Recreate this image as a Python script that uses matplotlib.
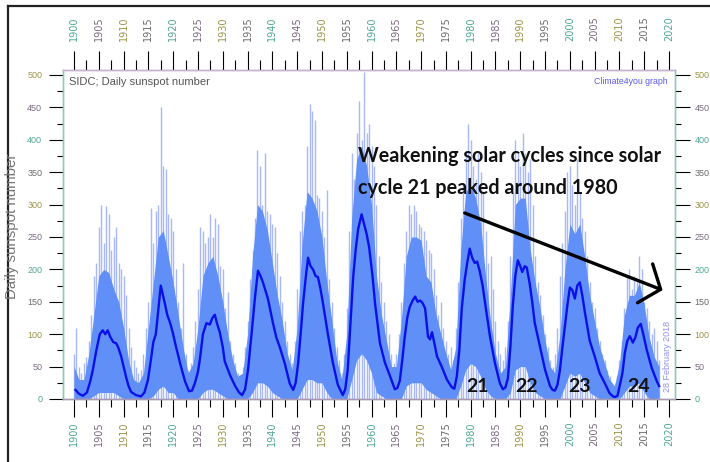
import matplotlib
matplotlib.use('Agg')
import matplotlib.pyplot as plt
import numpy as np
from matplotlib.lines import Line2D

# running mean of the daily sunspot number
smooth_year = [
    1900.3, 1901.0, 1901.8, 1902.6, 1903.3, 1903.8, 1904.5, 1905.2, 1905.8, 1906.3, 1906.8, 1907.3, 1907.9, 1908.5, 1908.9, 1909.5, 1910.0, 1910.5, 1911.0, 1911.5, 1912.5, 1913.5,
    1914.2, 1914.9, 1915.5, 1916.0, 1916.5, 1917.0, 1917.5, 1918.3, 1918.8, 1919.4, 1920.0, 1920.4, 1921.4, 1922.4, 1923.2,
    1923.8, 1924.4, 1925.0, 1925.4, 1926.0, 1926.7, 1927.4, 1927.9, 1928.4, 1928.9, 1929.4, 1930.0, 1930.4, 1931.5, 1932.5, 1933.3, 1933.9,
    1934.5, 1935.1, 1935.8, 1936.5, 1937.1, 1937.6, 1938.1, 1939.1, 1940.1, 1940.8, 1941.5, 1942.5, 1943.5, 1944.2,
    1944.7, 1945.2, 1945.7, 1946.2, 1946.7, 1947.2, 1947.7, 1948.2, 1948.7, 1949.2, 1949.7, 1950.2, 1951.2, 1952.2, 1953.2, 1954.2,
    1954.7, 1955.2, 1955.7, 1956.3, 1956.8, 1957.3, 1958.0, 1958.5, 1959.0, 1959.5, 1960.2, 1960.7, 1961.7, 1962.7, 1963.7, 1964.7,
    1965.2, 1965.7, 1966.2, 1966.7, 1967.2, 1967.7, 1968.3, 1968.8, 1969.3, 1969.8, 1970.3, 1970.8, 1971.4, 1971.8, 1972.2, 1972.7, 1973.2, 1974.2, 1975.2, 1976.2, 1976.7,
    1977.2, 1977.7, 1978.2, 1978.8, 1979.3, 1979.8, 1980.3, 1980.8, 1981.3, 1981.8, 1982.4, 1982.9, 1983.9, 1984.9, 1985.9, 1986.5,
    1987.0, 1987.5, 1988.0, 1988.5, 1989.0, 1989.5, 1990.0, 1990.4, 1990.9, 1991.3, 1991.9, 1992.4, 1992.9, 1994.0, 1995.0, 1996.0, 1996.5, 1997.0,
    1997.5, 1998.0, 1998.5, 1999.0, 1999.5, 2000.0, 2000.5, 2001.0, 2001.5, 2002.0, 2002.5, 2003.0, 2004.0, 2005.0, 2006.0, 2007.0, 2008.0, 2008.7, 2009.1,
    2009.6, 2010.1, 2010.6, 2011.1, 2011.6, 2012.1, 2012.7, 2013.2, 2013.7, 2014.3, 2014.8, 2015.5, 2016.5, 2017.5, 2018.0,
]
smooth_ssn = [
    14, 8, 5, 10, 28, 45, 75, 100, 106, 100, 106, 96, 88, 86, 80, 66, 50, 34, 20, 11, 6, 4,
    10, 29, 60, 88, 100, 138, 175, 148, 130, 117, 100, 86, 55, 27, 12,
    13, 25, 42, 62, 100, 117, 115, 125, 130, 115, 103, 80, 58, 36, 20, 10, 6,
    15, 45, 100, 157, 198, 190, 180, 155, 118, 95, 80, 55, 24, 14,
    25, 55, 100, 148, 185, 218, 205, 200, 190, 188, 170, 148, 100, 56, 22, 6,
    15, 45, 110, 188, 230, 262, 285, 270, 255, 235, 190, 148, 86, 56, 36, 15,
    17, 28, 60, 96, 125, 142, 152, 158, 150, 152, 148, 140, 96, 92, 103, 85, 66, 49, 30, 18, 16,
    35, 75, 140, 185, 210, 232, 218, 210, 212, 198, 175, 148, 96, 55, 24, 15,
    18, 32, 80, 145, 190, 214, 205, 196, 205, 203, 178, 150, 118, 80, 45, 20, 14, 13,
    22, 45, 80, 112, 145, 172, 168, 155, 175, 180, 160, 135, 90, 66, 40, 25, 9, 4, 3,
    5, 22, 40, 72, 90, 97, 87, 95, 110, 116, 100, 76, 48, 28, 20,
]

# highest daily values, one per half year from 1900.0
spike_top = [
    70, 110, 50, 40, 55, 65, 90, 130, 190, 210, 265, 300, 240, 298, 285, 230, 250, 265, 210, 200,
    190, 160, 110, 80, 60, 50, 40, 45, 70, 110, 150, 295, 240, 290, 300, 450, 360, 355, 285, 280,
    260, 200, 150, 110, 210, 70, 45, 55, 80, 120, 170, 265, 260, 240, 250, 285, 250, 280, 270, 205,
    200, 140, 165, 90, 70, 55, 40, 35, 50, 80, 120, 185, 230, 280, 385, 360, 300, 380, 290, 285,
    270, 265, 225, 190, 150, 120, 90, 70, 55, 90, 170, 260, 290, 300, 390, 455, 445, 430, 315, 310,
    290, 250, 322, 185, 150, 110, 80, 60, 40, 70, 140, 260, 380, 340, 410, 460, 400, 505, 410, 425,
    390, 360, 300, 220, 180, 150, 120, 100, 70, 55, 70, 100, 150, 210, 260, 300, 285, 300, 290, 270,
    265, 260, 245, 230, 225, 200, 160, 130, 150, 110, 90, 70, 80, 60, 110, 180, 280, 330, 380, 425,
    400, 360, 340, 380, 350, 320, 260, 210, 220, 170, 120, 90, 70, 60, 80, 120, 220, 320, 400, 380,
    360, 410, 380, 350, 370, 300, 220, 180, 160, 130, 100, 80, 60, 50, 70, 110, 190, 240, 290, 350,
    360, 330, 300, 370, 320, 280, 260, 220, 180, 150, 140, 110, 90, 70, 60, 45, 35, 25, 25, 35,
    60, 90, 140, 190, 200, 170, 190, 180, 220, 200, 150, 140, 120, 100, 110, 90, 60,
]

# dense band of the daily values, one per year from 1900
band_hi = [
    50, 30, 30, 70, 130, 190, 200, 195, 170, 150,
    110, 60, 30, 25, 40, 110, 180, 250, 260, 220,
    180, 130, 80, 40, 55, 110, 190, 210, 220, 190,
    150, 100, 60, 35, 40, 100, 220, 300, 290, 260,
    210, 160, 120, 70, 45, 110, 240, 320, 310, 290,
    250, 180, 120, 60, 30, 100, 280, 370, 390, 360,
    300, 190, 130, 90, 50, 50, 120, 220, 250, 250,
    245, 190, 180, 130, 100, 70, 45, 80, 230, 320,
    330, 310, 270, 190, 120, 70, 40, 50, 160, 300,
    310, 310, 230, 180, 140, 90, 50, 40, 100, 200,
    270, 255, 270, 220, 160, 120, 80, 55, 30, 20,
    55, 130, 160, 160, 180, 145, 95, 65, 50,
]
band_lo = [
    0, 0, 0, 0, 5, 10, 10, 10, 10, 5,
    0, 0, 0, 0, 0, 0, 5, 15, 20, 10,
    10, 0, 0, 0, 0, 0, 10, 15, 15, 10,
    5, 0, 0, 0, 0, 0, 10, 25, 25, 20,
    10, 5, 0, 0, 0, 0, 15, 30, 30, 25,
    25, 10, 0, 0, 0, 0, 30, 60, 70, 60,
    40, 10, 5, 0, 0, 0, 0, 20, 25, 25,
    25, 15, 10, 5, 0, 0, 0, 0, 20, 45,
    55, 50, 35, 15, 5, 0, 0, 0, 10, 45,
    50, 50, 25, 10, 5, 0, 0, 0, 0, 20,
    40, 35, 40, 25, 10, 5, 0, 0, 0, 0,
    0, 10, 20, 20, 25, 10, 0, 0, 0,
]

cycle_names = ['21', '22', '23', '24']
cycle_years = [1981.4, 1991.3, 2001.9, 2013.8]

spike_year = 1900 + 0.5 * np.arange(len(spike_top))
band_year = 1900 + np.arange(len(band_hi))

plt.rcParams['font.family'] = ['Liberation Sans', 'DejaVu Sans']

W, H = 710, 462
fig = plt.figure(figsize=(W / 100, H / 100), dpi=100)
ax = fig.add_axes([63 / W, 1 - 399 / H, (675 - 63) / W, (399 - 70) / H])
ax_top = ax.twiny()
ax_right = ax.twinx()

ax.vlines(spike_year, 0, spike_top, color='#a8b8fb', lw=1.0, zorder=1)
ax.fill_between(band_year, band_lo, band_hi, color='#5f8ff7', lw=0, zorder=2)
ax.plot(smooth_year, smooth_ssn, color='#0c10e8', lw=1.7, zorder=3)

xlim = (1897.78, 2021.2)
ylim = (0, 507.7)
ax.set_xlim(xlim)
ax.set_ylim(ylim)
ax_top.set_xlim(xlim)
ax_right.set_ylim(ylim)

xmaj = np.arange(1900, 2021, 5)
xmin = np.arange(1902.5, 2020, 5)
ymaj = np.arange(0, 501, 50)
ymin = np.arange(25, 500, 50)

for a in (ax, ax_top):
    a.set_xticks(xmaj)
    a.set_xticks(xmin, minor=True)
    a.set_xticklabels([str(v) for v in xmaj], rotation=90, fontsize=7, family='DejaVu Sans')
for a in (ax, ax_right):
    a.set_yticks(ymaj)
    a.set_yticks(ymin, minor=True)
    a.set_yticklabels([str(v) for v in ymaj], fontsize=6.5)

tick_cols = ['#8a6f8f', '#5a5a5a', '#66c2ad', '#7f8fc4']
label_cols = ['#6b6b6b', '#4fa894', '#7a6a80', '#9a9448']
for axis in (ax.xaxis, ax_top.xaxis, ax.yaxis, ax_right.yaxis):
    for i, t in enumerate(axis.get_major_ticks()):
        for ln in (t.tick1line, t.tick2line):
            ln.set_color(tick_cols[i % 4])
        for lb in (t.label1, t.label2):
            lb.set_color(label_cols[(i + 1) % 4])
    for i, t in enumerate(axis.get_minor_ticks()):
        for ln in (t.tick1line, t.tick2line):
            ln.set_color(tick_cols[(i + 2) % 4])

for a in (ax, ax_top, ax_right):
    a.spines['top'].set_color('#c7aed3')
    a.spines['bottom'].set_color('#a897b0')
    a.spines['left'].set_color('#8fc9b8')
    a.spines['right'].set_color('#8fc9b8')
    for s in a.spines.values():
        s.set_linewidth(0.9)

fig.text(12 / W, 0.51, 'Daily sunspot number', rotation=90, ha='center', va='center',
         fontsize=10.8, color='#777777')

ax.text(0.009, 0.965, 'SIDC; Daily sunspot number', transform=ax.transAxes, fontsize=8,
        color='#555555', ha='left', va='center')
ax.text(0.988, 0.965, 'Climate4you graph', transform=ax.transAxes, fontsize=6.3,
        color='#5a5af0', ha='right', va='center')
ax.text(0.995, 0.02, '28 February 2018', transform=ax.transAxes, fontsize=6.5,
        color='#9090f0', ha='right', va='bottom', rotation=90)

bold = dict(family=['Lato', 'DejaVu Sans'], fontweight='bold', color='#111111')
ax.text(1957.3, 366, 'Weakening solar cycles since solar', fontsize=14.2, ha='left',
        va='baseline', zorder=5, **bold)
ax.text(1957.3, 317, 'cycle 21 peaked around 1980', fontsize=14.2, ha='left',
        va='baseline', zorder=5, **bold)
for name, yr in zip(cycle_names, cycle_years):
    ax.text(yr, 11, name, fontsize=14, ha='center', va='baseline', zorder=5, **bold)

ax.annotate('', xy=(2018.7, 168), xytext=(1978.8, 287), zorder=6,
            arrowprops=dict(arrowstyle='->,head_length=1.2,head_width=1.5', lw=2.4,
                            color='k', shrinkA=0, shrinkB=0, mutation_scale=10))

fig.add_artist(Line2D([8 / W, 1], [1 - 6 / H, 1 - 6 / H], transform=fig.transFigure,
                      color='#222222', lw=1.6))
fig.add_artist(Line2D([8 / W, 8 / W], [0, 1 - 6 / H], transform=fig.transFigure,
                      color='#222222', lw=1.6))

# tick geometry last, so nothing resets it
ax.tick_params(axis='x', which='major', direction='out', length=13, width=0.8, pad=3)
ax.tick_params(axis='x', which='minor', direction='out', length=6, width=0.8)
ax_top.tick_params(axis='x', which='major', direction='out', length=14, width=0.8, pad=7)
ax_top.tick_params(axis='x', which='minor', direction='out', length=7.5, width=0.8)
ax.tick_params(axis='y', which='major', direction='out', length=10, width=0.8, pad=5)
ax.tick_params(axis='y', which='minor', direction='out', length=4, width=0.8)
ax_right.tick_params(axis='y', which='major', direction='out', length=11, width=0.8, pad=3)
ax_right.tick_params(axis='y', which='minor', direction='out', length=4, width=0.8)

fig.savefig('out.png', dpi=100)
